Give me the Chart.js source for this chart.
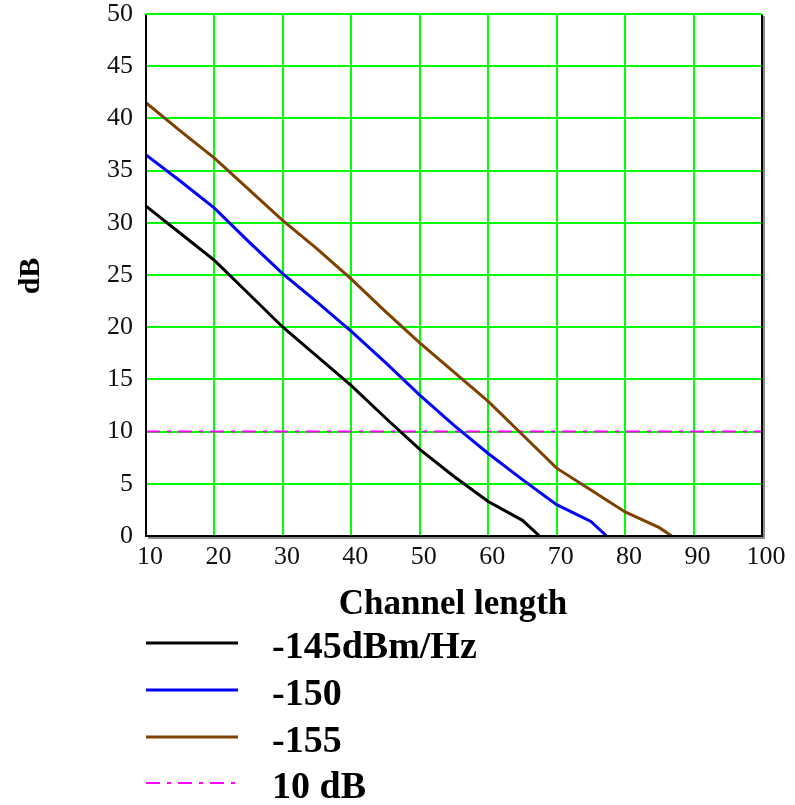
<!DOCTYPE html>
<html>
<head>
<meta charset="utf-8">
<script src="https://cdn.jsdelivr.net/npm/chart.js@4/dist/chart.umd.min.js"></script>
<style>
  html, body { margin: 0; padding: 0; background: #fff; }
  #grafica { display: block; }
</style>
</head>
<body>
<canvas id="grafica" width="795" height="805"></canvas>
<script>
// channel length vs margin in dB, one curve per noise level
var len145 = [10, 15, 20, 25, 30, 35, 40, 45, 50, 55, 60, 65, 67.5];
var db145  = [31.6, 29.0, 26.4, 23.2, 20.0, 17.2, 14.4, 11.3, 8.3, 5.7, 3.3, 1.5, 0];

var len150 = [10, 15, 20, 25, 30, 35, 40, 45, 50, 55, 60, 65, 70, 75, 77.3];
var db150  = [36.5, 34.0, 31.4, 28.2, 25.1, 22.4, 19.6, 16.6, 13.5, 10.6, 7.9, 5.4, 3.0, 1.4, 0];

var len155 = [10, 15, 20, 25, 30, 35, 40, 45, 50, 55, 60, 65, 70, 75, 80, 85, 86.8];
var db155  = [41.5, 38.8, 36.2, 33.2, 30.2, 27.5, 24.6, 21.5, 18.5, 15.7, 12.9, 9.7, 6.5, 4.4, 2.3, 0.8, 0];

var lenRef = [10, 100];
var dbRef  = [10, 10];

var etiquetas = ['-145dBm/Hz', '-150', '-155', '10 dB'];
var xTicks = [10, 20, 30, 40, 50, 60, 70, 80, 90, 100];
var yTicks = [0, 5, 10, 15, 20, 25, 30, 35, 40, 45, 50];

function puntos(xs, ys) {
	var p = [];
	for (var i = 0; i < xs.length; i++) p.push({x: xs[i], y: ys[i]});
	return p;
}

var serif = '"Liberation Serif", "Times New Roman", serif';

// frame, axis titles and the legend under the plot
var extras = {
	id: 'extras',
	afterDatasetsDraw: function(chart) {
		var c = chart.ctx, a = chart.chartArea;
		c.save();
		// grey shadow then black frame
		c.strokeStyle = '#8a8a8a';
		c.lineWidth = 2;
		c.beginPath();
		c.moveTo(a.left + 2, a.bottom + 2);
		c.lineTo(a.right + 2, a.bottom + 2);
		c.lineTo(a.right + 2, a.top + 2);
		c.stroke();
		c.strokeStyle = '#000';
		c.beginPath();
		c.moveTo(a.left, a.top + 1);
		c.lineTo(a.left, a.bottom);
		c.lineTo(a.right, a.bottom);
		c.lineTo(a.right, a.top + 1);
		c.stroke();
		c.strokeStyle = '#00ff00';
		c.beginPath();
		c.moveTo(a.left, a.top);
		c.lineTo(a.right, a.top);
		c.stroke();

		c.fillStyle = '#000';
		// y title
		c.font = 'bold 30px ' + serif;
		c.textAlign = 'center';
		c.textBaseline = 'middle';
		c.translate(31, 276);
		c.rotate(-Math.PI / 2);
		c.fillText('dB', 0, 0);
		c.setTransform(1, 0, 0, 1, 0, 0);
		// x title
		c.font = 'bold 35px ' + serif;
		c.textBaseline = 'alphabetic';
		c.fillText('Channel length', 453, 614);

		// legend
		var filas = [643, 690, 737, 783];
		c.textAlign = 'left';
		c.font = 'bold 38px ' + serif;
		chart.data.datasets.forEach(function(ds, i) {
			c.strokeStyle = ds.borderColor;
			c.lineWidth = ds.borderWidth;
			c.setLineDash(ds.borderDash || []);
			c.beginPath();
			c.moveTo(146, filas[i]);
			c.lineTo(238, filas[i]);
			c.stroke();
			c.setLineDash([]);
			c.fillText(ds.label, 272, filas[i] + 15);
		});
		c.restore();
	}
};

var ctx = document.getElementById('grafica').getContext('2d');
var chart = new Chart(ctx, {
	type: 'line',
	data: {
		datasets: [
			{label: etiquetas[0], data: puntos(len145, db145), borderColor: '#000000', borderWidth: 3},
			{label: etiquetas[1], data: puntos(len150, db150), borderColor: '#0000ff', borderWidth: 3},
			{label: etiquetas[2], data: puntos(len155, db155), borderColor: '#804000', borderWidth: 3},
			{label: etiquetas[3], data: puntos(lenRef, dbRef), borderColor: '#ff00ff', borderWidth: 2, borderDash: [14, 7, 4, 7]}
		]
	},
	options: {
		responsive: false,
		animation: false,
		devicePixelRatio: 1,
		elements: {
			point: {radius: 0},
			line: {tension: 0, fill: false}
		},
		layout: {padding: {top: 14, right: 33, left: 0, bottom: 229}},
		plugins: {
			legend: {display: false},
			tooltip: {enabled: false}
		},
		scales: {
			x: {
				type: 'linear',
				min: 10,
				max: 100,
				afterBuildTicks: function(s) { s.ticks = xTicks.map(function(v) { return {value: v}; }); },
				afterFit: function(s) { s.height = 40; s.paddingLeft = 0; s.paddingRight = 0; },
				grid: {color: '#00ff00', lineWidth: 2, drawTicks: false},
				border: {display: false},
				ticks: {color: '#111', padding: 6, labelOffset: 4, maxRotation: 0, autoSkip: false,
					font: {family: serif, size: 26}}
			},
			y: {
				min: 0,
				max: 50,
				afterBuildTicks: function(s) { s.ticks = yTicks.map(function(v) { return {value: v}; }); },
				afterFit: function(s) { s.width = 146; s.paddingTop = 0; s.paddingBottom = 0; },
				grid: {color: '#00ff00', lineWidth: 2, drawTicks: false},
				border: {display: false},
				ticks: {color: '#111', padding: 13, autoSkip: false,
					font: {family: serif, size: 26}}
			}
		}
	},
	plugins: [extras]
});
</script>
</body>
</html>
